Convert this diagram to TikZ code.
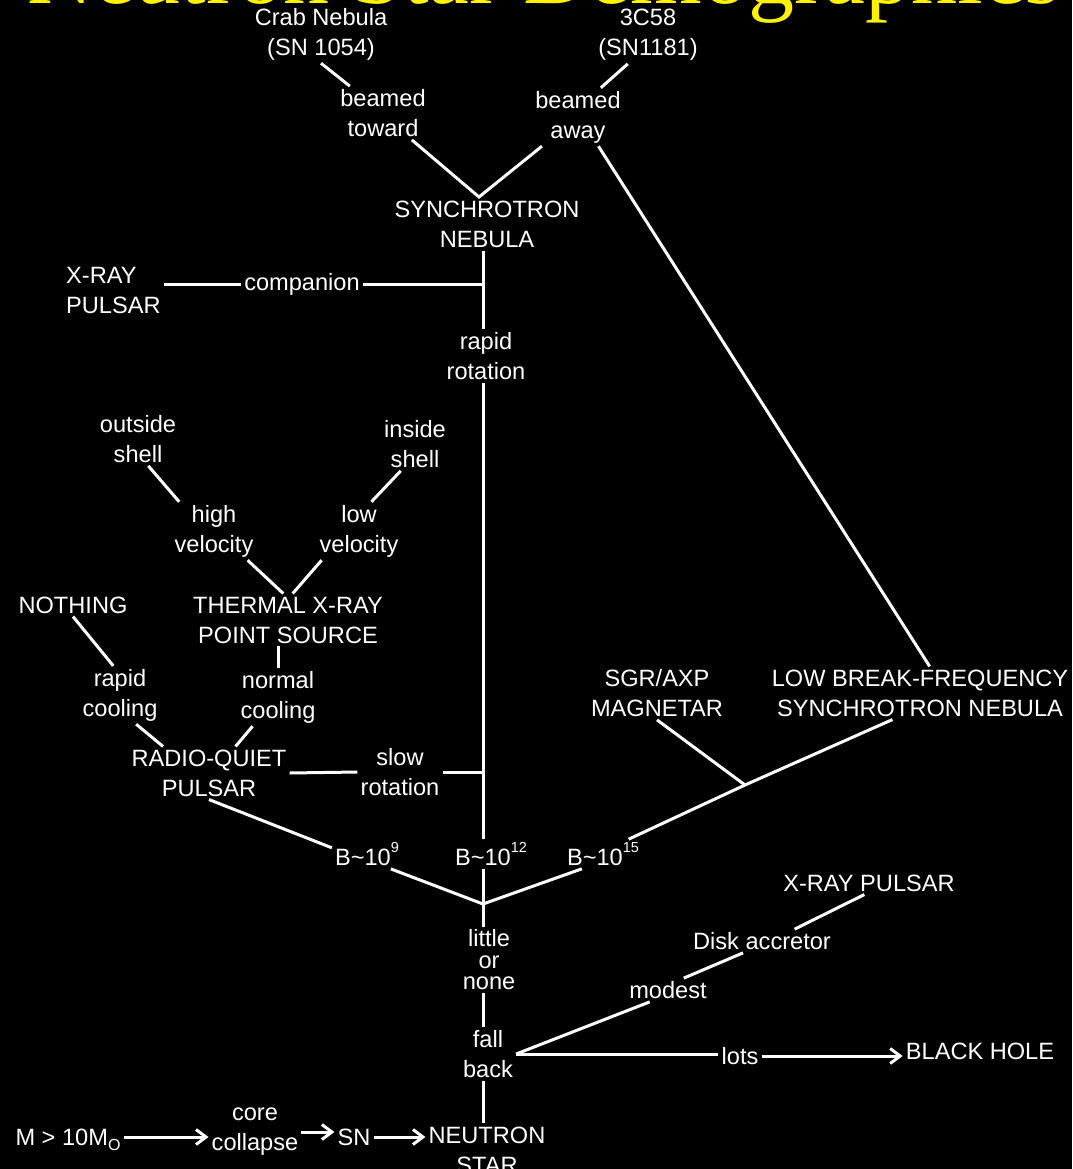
\documentclass[tikz,border=0pt]{standalone}
\usepackage{fontspec}
\setsansfont{Liberation Sans}
\newfontfamily\titlefont{Liberation Serif}
\usetikzlibrary{arrows.meta}

\newcommand{\Bten}[1]{B\textasciitilde 10\raisebox{13pt}{\fontsize{14.5}{14.5}\selectfont #1}}
\newcommand{\Msun}{M\raisebox{-5pt}[0pt][0pt]{\fontsize{16}{16}\selectfont O}}

\begin{document}
\begin{tikzpicture}[x=1pt,y=-1pt,
  lbl/.style={text=white, align=center, inner sep=3pt, font=\sffamily\fontsize{23.6}{30}\selectfont},
  wire/.style={white, line width=3pt},
  arr/.style={wire, -{Straight Barb[length=10pt,width=15pt]}}]

% BACKGROUND
 \path[use as bounding box, fill=black] (0,0) rectangle (1072,1169);
 \clip (0,0) rectangle (1072,1169);

% TITLE
 \node[text=yellow, inner sep=0pt, anchor=base east, font=\titlefont\fontsize{92}{92}\selectfont] (title) at (1060,4) {Neutron Star Demographics};

% JUNCTIONS
 \coordinate (sj)  at (479,197);
 \coordinate (hub) at (483,904);
 \coordinate (mj)  at (745,785);

% SYNCHROTRON NEBULA BRANCH
 \node[lbl] (crab)     at (321,34)  {Crab Nebula\\(SN 1054)};
 \node[lbl] (c3c58)    at (648,35)  {3C58\\(SN1181)};
 \node[lbl] (toward)   at (383,113) {beamed\\toward};
 \node[lbl] (away)     at (578,117) {beamed\\away};
 \node[lbl] (synch)    at (487,224) {SYNCHROTRON\\NEBULA};
 \node[lbl, anchor=west, align=left] (xrp1) at (63,290) {X-RAY\\PULSAR};
 \node[lbl] (comp)     at (302,284) {companion};
 \node[lbl] (rapidrot) at (486,356) {rapid\\rotation};

 \draw[wire] (crab.south) -- (toward.141);
 \draw[wire] (c3c58.235) -- (away.52);
 \draw[wire] (toward.-43) -- (sj) -- (away.219);
 \draw[wire] (xrp1.east |- comp.west) -- (comp.west);
 \draw[wire] (comp.east) -- (comp.east -| hub);
 \draw[wire] (synch.south -| hub) -- (rapidrot.north -| hub);

% THERMAL / RADIO-QUIET BRANCH
 \node[lbl] (outside)   at (138,439) {outside\\shell};
 \node[lbl] (inside)    at (415,444) {inside\\shell};
 \node[lbl] (high)      at (214,531) {high\\velocity};
 \node[lbl] (low)       at (359,531) {low\\velocity};
 \node[lbl] (nothing)   at (73,605)  {NOTHING};
 \node[lbl] (thermal)   at (288,620) {THERMAL X-RAY\\POINT SOURCE};
 \node[lbl] (rapidcool) at (120,695) {rapid\\cooling};
 \node[lbl] (normcool)  at (278,697) {normal\\cooling};
 \node[lbl] (rq)        at (209,773) {RADIO-QUIET\\PULSAR};
 \node[lbl] (slow)      at (400,772) {slow\\rotation};

 \draw[wire] (outside.-69) -- (high.140);
 \draw[wire] (inside.242) -- (low.67);
 \draw[wire] (high.-41) -- (thermal.100);
 \draw[wire] (low.218) -- (thermal.80);
 \draw[wire] (thermal.south -| normcool.north) -- (normcool.north);
 \draw[wire] (nothing.south) -- (rapidcool.103);
 \draw[wire] (rapidcool.-61) -- (rq.150);
 \draw[wire] (normcool.229) -- (rq.45);
 \draw[wire] (rq.east) -- (slow.west);
 \draw[wire] (slow.east) -- (slow.east -| hub);

% MAGNETIC FIELD
 \foreach \name/\x/\e in {b9/367/9, b12/491/12, b15/603/15}
   \node[lbl] (\name) at (\x,854) {\Bten{\e}};

 \node[lbl] (sgr)      at (657,693) {SGR/AXP\\MAGNETAR};
 \node[lbl] (lowbreak) at (920,693) {LOW BREAK-FREQUENCY\\SYNCHROTRON NEBULA};

 \draw[wire] (away.-55) -- (lowbreak.70);
 \draw[wire] (rapidrot.south -| hub) -- (b12.north -| hub);
 \draw[wire] (b12.south -| hub) -- (hub);
 \draw[wire] (rq.south) -- (b9.170);
 \draw[wire] (b9.-32) -- (hub) -- (b15.215);
 \draw[wire] (b15.30) -- (mj);
 \draw[wire] (sgr.south) -- (mj);
 \draw[wire] (lowbreak.224) -- (mj);

% FALL BACK
 \node[lbl, font=\sffamily\fontsize{23.6}{21.5}\selectfont] (little) at (489,960) {little\\or\\none};
 \node[lbl] (fall)   at (488,1054) {fall\\back};
 \node[lbl] (modest) at (668,990)  {modest};
 \node[lbl] (disk)   at (762,941)  {Disk accretor};
 \node[lbl] (xrp2)   at (869,883)  {X-RAY PULSAR};
 \node[lbl] (lots)   at (740,1056) {lots};
 \node[lbl] (bh)     at (980,1051) {BLACK HOLE};

 \draw[wire] (hub) -- (hub |- little.north);
 \draw[wire] (little.south -| hub) -- (fall.north -| hub);
 \draw[wire] (fall.east) -- (modest.213);
 \draw[wire] (modest.37) -- (disk.212);
 \draw[wire] (disk.20) -- (xrp2.248);
 \draw[wire] (fall.east) -- (lots.west |- fall.east);
 \draw[arr]  (lots.east) -- (bh.west |- lots.east);

% COLLAPSE
 \node[lbl] (mass) at (68,1137)  {M > 10\Msun};
 \node[lbl] (core) at (255,1132) {core\\collapse};
 \node[lbl] (sn)   at (354,1137) {SN};
 \node[lbl] (ns)   at (487,1150) {NEUTRON\\STAR};

 \draw[wire] (fall.south -| hub) -- (ns.north -| hub);
 \draw[arr] (mass.east) -- (core.west |- mass.east);
 \draw[arr] (core.east) -- (sn.west |- core.east);
 \draw[arr] (sn.east) -- (ns.west |- sn.east);

\end{tikzpicture}
\end{document}
